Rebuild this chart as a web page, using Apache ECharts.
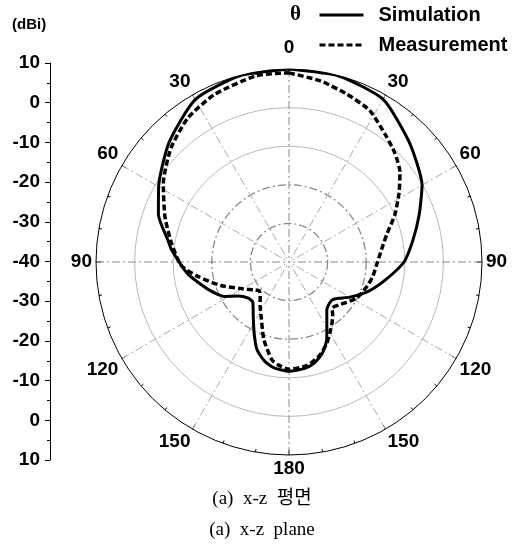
<!DOCTYPE html>
<html>
<head>
<meta charset="utf-8">
<script src="https://cdn.jsdelivr.net/npm/echarts@6/dist/echarts.min.js"></script>
<style>
html, body { margin: 0; padding: 0; background: #fff; }
#chart { width: 524px; height: 554px; }
</style>
</head>
<body>
<div id="chart"></div>
<script>
// theta measured clockwise from the top (0..360), gain in dBi
const simAngle = [0, 15, 30, 45, 60, 70, 80, 90, 100, 110, 120, 126, 131, 136, 142, 148, 154, 160, 166, 172, 180,
  188, 194, 200, 206, 213, 222, 229, 236, 242, 250, 263, 276, 280, 290, 300, 315, 330, 345, 360]
const simGain = [10.0, 9.9, 8.7, 4.0, -0.2, -4.1, -7.4, -10.2, -14.4, -18.0, -21.8, -24.0, -25.1, -25.0, -24.1, -21.5, -17.7, -14.8, -13.0, -12.1, -11.7,
  -12.3, -13.6, -15.8, -19.4, -23.0, -26.0, -25.8, -24.2, -21.0, -18.3, -13.7, -9.4, -8.2, -4.0, -1.0, 3.9, 8.6, 9.9, 10.0]

const measAngle = [0, 10, 19, 28, 38, 44, 51, 58, 66, 74, 80, 91, 100, 107, 118, 125, 131, 137, 141, 145, 150, 155, 162, 170, 180,
  186, 190, 198, 207, 214, 220, 226, 232, 237, 241, 251, 261, 268, 279, 290, 302, 314, 325, 336, 350, 360]
const measGain = [9.0, 7.6, 6.0, 4.5, 1.1, -0.6, -3.0, -6.4, -10.0, -13.6, -15.3, -17.2, -18.0, -18.8, -20.1, -21.8, -23.0, -23.6, -22.0, -20.6, -18.8, -16.8, -14.5, -12.8, -12.2,
  -13.2, -14.3, -18.9, -24.1, -26.6, -28.4, -29.3, -28.3, -27.0, -25.8, -21.3, -16.1, -12.1, -9.2, -5.8, -1.6, 2.5, 5.6, 7.5, 9.0, 9.0]

const angleLabels = ['0', '30', '60', '90', '120', '150', '180', '150', '120', '90', '60', '30']
const scaleLabels = ['10', '0', '-10', '-20', '-30', '-40', '-30', '-20', '-10', '0', '10']

const center = [289, 262]
const R = 193
const boldFont = { color: '#000', fontWeight: 'bold', fontSize: 19, fontFamily: 'Liberation Sans, Arial, sans-serif' }

let myChart = echarts.init(document.getElementById('chart'))
myChart.setOption({
  animation: false,
  backgroundColor: '#fff',
  legend: {
    orient: 'vertical',
    left: 318,
    top: 5,
    padding: 0,
    itemWidth: 44,
    itemHeight: 14,
    itemGap: 10,
    itemStyle: { color: 'transparent', borderColor: 'transparent', borderWidth: 0 },
    lineStyle: { width: 3 },
    textStyle: { ...boldFont, fontSize: 20, padding: [0, 0, 0, 10] },
    data: ['Simulation', 'Measurement'],
  },
  graphic: [
    { type: 'text', left: 12, top: 17, style: { text: '(dBi)', font: 'bold 15px Liberation Sans, Arial', fill: '#000' } },
    { type: 'text', left: 290, top: 4, style: { text: 'θ', font: 'bold 21px Liberation Serif, serif', fill: '#000' } },
    { type: 'text', left: 'center', top: 490, style: { text: '(a)  x-z  평면', font: '19px Liberation Serif, Noto Sans CJK KR, serif', fill: '#000' } },
    { type: 'text', left: 'center', top: 521, style: { text: '(a)  x-z  plane', font: '19px Liberation Serif, serif', fill: '#000' } },
  ],
  grid: { left: 50, top: 63, height: 397, width: 10 },
  xAxis: { type: 'value', show: false },
  yAxis: {
    type: 'value',
    min: -50,
    max: 50,
    interval: 10,
    position: 'left',
    axisLine: { show: true, lineStyle: { color: '#000', width: 1 } },
    axisTick: { show: true, length: 5, lineStyle: { color: '#000' } },
    minorTick: { show: true, splitNumber: 2, length: 3, lineStyle: { color: '#000' } },
    splitLine: { show: false },
    axisLabel: { ...boldFont, margin: 10, formatter: (v) => scaleLabels[Math.round((50 - v) / 10)] },
  },
  polar: [
    { center: center, radius: R },
    { center: center, radius: R },
  ],
  angleAxis: [
    {
      polarIndex: 0,
      type: 'value',
      min: 0,
      max: 360,
      interval: 30,
      startAngle: 90,
      clockwise: true,
      axisLine: { lineStyle: { color: '#000', width: 1 } },
      axisTick: { show: true, inside: true, length: 5, lineStyle: { color: '#000' } },
      minorTick: { show: true, splitNumber: 3, length: 3, lineStyle: { color: '#000' } },
      axisLabel: {
        ...boldFont,
        margin: 4,
        formatter: (v) => (v % 360 === 0 ? '{top|' + angleLabels[0] + '}' : angleLabels[Math.round(v / 30) % 12]),
        rich: { top: { ...boldFont, padding: [0, 0, 8, 0] } },
      },
      splitLine: {
        lineStyle: { color: ['#888', '#aaa', '#aaa'], width: 1, type: [8, 3, 2, 3] },
      },
    },
    {
      polarIndex: 1,
      type: 'value',
      min: 0,
      max: 360,
      startAngle: 90,
      axisLine: { show: false },
      axisTick: { show: false },
      axisLabel: { show: false },
      splitLine: { show: false },
    },
  ],
  radiusAxis: [
    {
      polarIndex: 0,
      type: 'value',
      min: -40,
      max: 10,
      interval: 10,
      axisLine: { show: false },
      axisTick: { show: false },
      axisLabel: { show: false },
      splitLine: {
        lineStyle: { color: ['transparent', 'transparent', 'transparent', '#bbb', '#bbb', 'transparent'], width: 1 },
      },
    },
    {
      polarIndex: 1,
      type: 'value',
      min: -40,
      max: 10,
      interval: 10,
      axisLine: { show: false },
      axisTick: { show: false },
      axisLabel: { show: false },
      splitLine: {
        lineStyle: { color: ['transparent', '#8a8a8a', '#8a8a8a', 'transparent', 'transparent', 'transparent'], width: 1.3, type: [8, 3, 2, 3] },
      },
    },
  ],
  series: [
    {
      name: 'Simulation',
      type: 'line',
      coordinateSystem: 'polar',
      polarIndex: 0,
      symbol: 'none',
      smooth: 0.2,
      lineStyle: { color: '#000', width: 3 },
      itemStyle: { color: '#000' },
      data: simAngle.map((a, i) => [simGain[i], a]),
      z: 5,
    },
    {
      name: 'Measurement',
      type: 'line',
      coordinateSystem: 'polar',
      polarIndex: 0,
      symbol: 'none',
      smooth: 0.2,
      lineStyle: { color: '#000', width: 3.5, type: [6, 3] },
      itemStyle: { color: '#000' },
      data: measAngle.map((a, i) => [measGain[i], a]),
      z: 6,
    },
  ],
})
</script>
</body>
</html>
